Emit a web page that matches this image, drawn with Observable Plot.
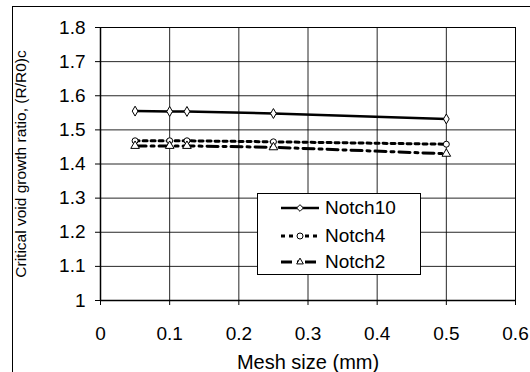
<!DOCTYPE html>
<html>
<head>
<meta charset="utf-8">
<script src="https://cdn.jsdelivr.net/npm/d3@7"></script>
<script src="https://cdn.jsdelivr.net/npm/@observablehq/plot@0.6"></script>
<style>
  html, body { margin: 0; padding: 0; background: #fff; }
  #wrap { position: relative; width: 530px; height: 372px; overflow: hidden; font-family: "Liberation Sans", Arial, sans-serif; }
  #outer { position: absolute; left: 12px; top: 6px; width: 540px; height: 400px; border: 1.5px solid #000; box-sizing: border-box; }
  #legend { position: absolute; left: 257px; top: 193px; width: 164px; height: 82px; border: 1.5px solid #000; background: #fff; box-sizing: border-box; }
  .item { position: absolute; left: 0; height: 26px; display: flex; align-items: center; }
  .item span { font-size: 19px; color: #000; margin-left: 3px; }
  svg.s { display: block; }
</style>
</head>
<body>
<div id="wrap"><div id="outer"></div><div id="chart"></div><div id="legend"></div></div>
<script>
const meshSize = [0.05, 0.1, 0.125, 0.25, 0.5];
const notch10 = [1.555, 1.554, 1.554, 1.548, 1.532];
const notch4 = [1.468, 1.468, 1.468, 1.465, 1.458];
const notch2 = [1.453, 1.453, 1.453, 1.449, 1.430];
const xTicks = [0, 0.1, 0.2, 0.3, 0.4, 0.5, 0.6];
const yTicks = [1, 1.1, 1.2, 1.3, 1.4, 1.5, 1.6, 1.7, 1.8];

const series = [
  {name: "Notch10", values: notch10, dash: null, width: 2.5, symbol: "diamond", r: 3},
  {name: "Notch4", values: notch4, dash: "4,4", width: 3, symbol: "circle", r: 3},
  {name: "Notch2", values: notch2, dash: "11,5,3,5", width: 3, symbol: "triangle", r: 3.2}
];

const marks = [
  Plot.gridX(xTicks, {stroke: "#000", strokeOpacity: 0.85, strokeWidth: 1}),
  Plot.gridY(yTicks, {stroke: "#000", strokeOpacity: 0.85, strokeWidth: 1}),
  Plot.frame({stroke: "#000", strokeWidth: 1})
];
for (const s of series) {
  const data = meshSize.map((x, i) => ({x, y: s.values[i]}));
  marks.push(Plot.line(data, {x: "x", y: "y", stroke: "#000", strokeWidth: s.width, strokeDasharray: s.dash}));
  marks.push(Plot.dot(data, {x: "x", y: "y", symbol: s.symbol, r: s.r, stroke: "#000", fill: "#fff", strokeWidth: 1}));
}
marks.push(Plot.axisX(xTicks, {tickSize: 5, tickPadding: 21, fontSize: 19, tickFormat: d => String(d), label: "Mesh size (mm)", labelAnchor: "center", labelOffset: 68, labelArrow: "none"}));
marks.push(Plot.axisY(yTicks, {tickSize: 5, tickPadding: 10, fontSize: 19, tickFormat: d => String(d), label: "Critical void growth ratio, (R/R0)c", labelAnchor: "center", labelOffset: 86, labelArrow: "none"}));
marks.push(Plot.ruleX([0], {stroke: "#000", strokeWidth: 1.5}));
marks.push(Plot.ruleY([1], {stroke: "#000", strokeWidth: 1.5}));

const chart = Plot.plot({
  width: 530,
  height: 372,
  marginLeft: 100,
  marginRight: 15,
  marginTop: 27,
  marginBottom: 72,
  style: {fontFamily: "Liberation Sans, Arial, sans-serif", background: "transparent", color: "#000"},
  x: {domain: [0, 0.6]},
  y: {domain: [1, 1.8]},
  marks
});
document.getElementById("chart").appendChild(chart);
// style axis labels, strip any arrows
d3.select(chart).selectAll("g[aria-label='x-axis label'] text")
  .style("font-size", "20px").text(function() { return this.textContent.replace(/\s*[→↑←↓]\s*/g, ""); });
d3.select(chart).selectAll("g[aria-label='y-axis label'] text")
  .style("font-size", "15.5px").text(function() { return this.textContent.replace(/\s*[→↑←↓]\s*/g, ""); });

// legend
const legend = document.getElementById("legend");
const tops = [1, 29, 55];
series.forEach((s, i) => {
  const div = document.createElement("div");
  div.className = "item";
  div.style.top = tops[i] + "px";
  const svg = d3.create("svg").attr("class", "s").attr("width", 64).attr("height", 26);
  svg.append("line").attr("x1", 23).attr("x2", 61).attr("y1", 13).attr("y2", 13)
    .attr("stroke", "#000").attr("stroke-width", s.width).attr("stroke-dasharray", s.dash);
  const sym = d3.symbol().type(s.symbol === "diamond" ? d3.symbolDiamond2 : s.symbol === "circle" ? d3.symbolCircle : d3.symbolTriangle2).size(s.r * s.r * Math.PI)();
  svg.append("path").attr("d", sym).attr("transform", "translate(42,13)").attr("fill", "#fff").attr("stroke", "#000");
  div.appendChild(svg.node());
  const span = document.createElement("span");
  span.textContent = s.name;
  div.appendChild(span);
  legend.appendChild(div);
});
</script>
</body>
</html>
